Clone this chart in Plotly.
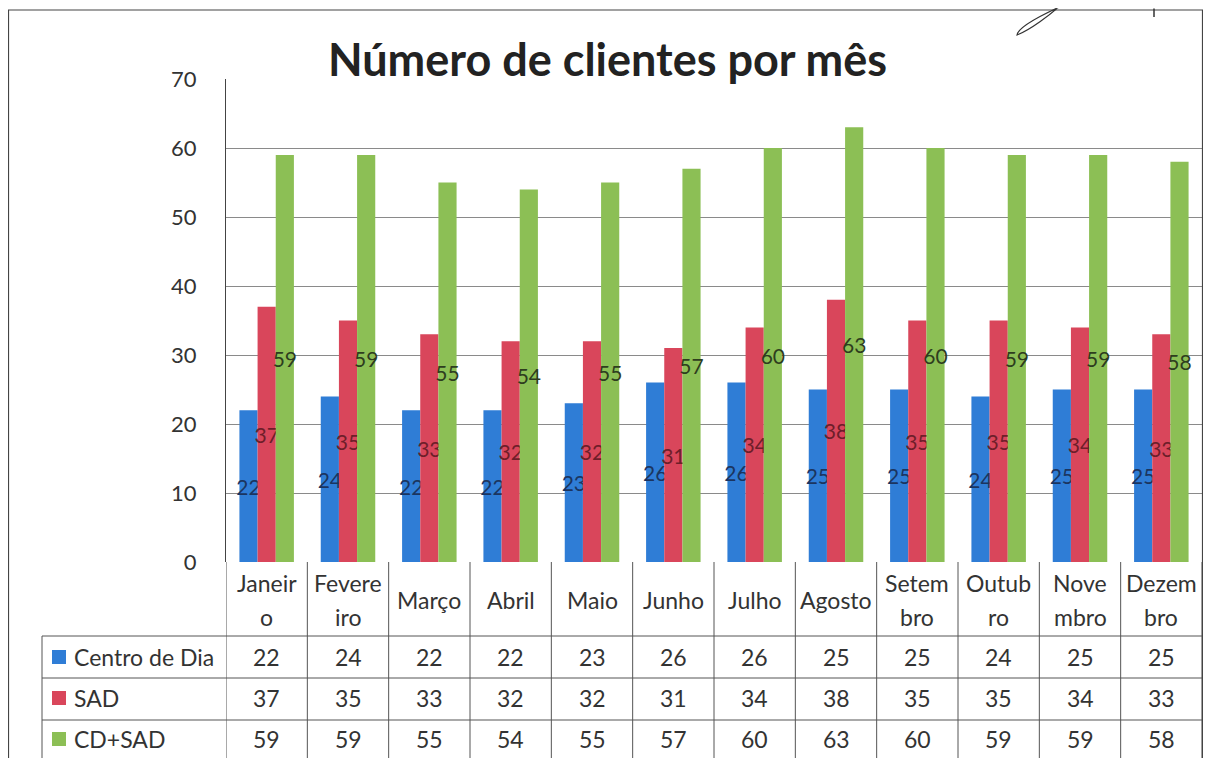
import plotly.graph_objects as go

months_line1 = ["Janeir", "Fevere", "Março", "Abril", "Maio", "Junho", "Julho", "Agosto", "Setem", "Outub", "Nove", "Dezem"]
months_line2 = ["o", "iro", "", "", "", "", "", "", "bro", "ro", "mbro", "bro"]

series_names = ["Centro de Dia", "SAD", "CD+SAD"]
centro_dia = [22, 24, 22, 22, 23, 26, 26, 25, 25, 24, 25, 25]
sad = [37, 35, 33, 32, 32, 31, 34, 38, 35, 35, 34, 33]
cd_sad = [59, 59, 55, 54, 55, 57, 60, 63, 60, 59, 59, 58]
y_ticks = [0, 10, 20, 30, 40, 50, 60, 70]

colors = ["#2F7DD6", "#D9465B", "#8CBF55"]
label_colors = ["#1B3560", "#6E1E2A", "#2E3D1E"]
FONT = "Lato, Open Sans, sans-serif"

OFF = 8  # browser body margin
W, H = 1211 - 2 * OFF, 758 - OFF
PL, PR, PT, PB = 226, 1202, 79, 562  # plot area bounds in page pixels


def pxx(p):
    return (p - PL) / (PR - PL)


def pxy(p):
    return (PB - p) / (PB - PT)


idx = list(range(len(months_line1)))
all_series = [centro_dia, sad, cd_sad]

fig = go.Figure()
for name, vals, col, lc in zip(series_names, all_series, colors, label_colors):
    fig.add_trace(go.Bar(
        x=idx, y=vals, name=name, marker=dict(color=col, line=dict(width=0)),
        text=[str(v) for v in vals], textposition="inside", insidetextanchor="middle",
        constraintext="none", textangle=0,
        textfont=dict(family=FONT, size=21, color=lc),
        showlegend=False,
    ))

shapes = []
annotations = []
line = dict(color="#555555", width=1)

header_top = PB
row_bounds = [636, 678, 720, 770]
legend_left = 42
TFONT = dict(family=FONT, size=23, color="#333333")

for i in range(len(idx) + 1):
    shapes.append(dict(type="line", xref="x", yref="paper", x0=i - 0.5, x1=i - 0.5,
                       y0=pxy(header_top), y1=pxy(row_bounds[-1]), line=line))
for yb in row_bounds[:-1]:
    shapes.append(dict(type="line", xref="paper", yref="paper", x0=pxx(legend_left), x1=1,
                       y0=pxy(yb), y1=pxy(yb), line=line))
shapes.append(dict(type="line", xref="paper", yref="paper", x0=pxx(legend_left), x1=pxx(legend_left),
                   y0=pxy(row_bounds[0]), y1=pxy(row_bounds[-1]), line=line))

# outer border
shapes.append(dict(type="rect", xref="paper", yref="paper", x0=pxx(8.5), x1=pxx(1202.5),
                   y0=pxy(790), y1=pxy(10), line=dict(color="#444444", width=1.2)))

# hand-drawn marks at top right of the scan
sig = "M {:.4f},{:.4f} C {:.4f},{:.4f} {:.4f},{:.4f} {:.4f},{:.4f} C {:.4f},{:.4f} {:.4f},{:.4f} {:.4f},{:.4f}".format(
    pxx(1066), pxy(4), pxx(1048), pxy(12), pxx(1018), pxy(26), pxx(1017), pxy(35),
    pxx(1030), pxy(30), pxx(1050), pxy(15), pxx(1062), pxy(4))
shapes.append(dict(type="path", xref="paper", yref="paper", path=sig,
                   line=dict(color="#333333", width=1.2)))
shapes.append(dict(type="line", xref="paper", yref="paper", x0=pxx(1154), x1=pxx(1154),
                   y0=pxy(8.5), y1=pxy(17), line=dict(color="#333333", width=1.5)))

for i, (l1, l2) in enumerate(zip(months_line1, months_line2)):
    if l2:
        annotations.append(dict(x=i, y=pxy(583), xref="x", yref="paper", text=l1, showarrow=False,
                                xanchor="center", yanchor="middle", font=TFONT))
        annotations.append(dict(x=i, y=pxy(617), xref="x", yref="paper", text=l2, showarrow=False,
                                xanchor="center", yanchor="middle", font=TFONT))
    else:
        annotations.append(dict(x=i, y=pxy(600), xref="x", yref="paper", text=l1, showarrow=False,
                                xanchor="center", yanchor="middle", font=TFONT))

row_centers = [657, 698, 739]
for r, (name, vals, col) in enumerate(zip(series_names, all_series, colors)):
    yc = row_centers[r]
    shapes.append(dict(type="rect", xref="paper", yref="paper", x0=pxx(52), x1=pxx(66),
                       y0=pxy(yc + 7), y1=pxy(yc - 7), fillcolor=col, line=dict(width=0)))
    annotations.append(dict(x=pxx(72), y=pxy(yc), xref="paper", yref="paper", text=name,
                            xanchor="left", yanchor="middle", showarrow=False, font=TFONT))
    for i, v in enumerate(vals):
        annotations.append(dict(x=i, y=pxy(yc), xref="x", yref="paper", text=str(v), showarrow=False,
                                xanchor="center", yanchor="middle", font=TFONT))

fig.update_layout(
    width=W, height=H,
    margin=dict(l=PL - OFF, r=W - (PR - OFF), t=PT - OFF, b=H - (PB - OFF), pad=0),
    paper_bgcolor="white", plot_bgcolor="white",
    barmode="group", bargap=0.33, bargroupgap=0,
    title=dict(text="<b>Número de clientes por mês</b>", x=((330 + 885) / 2 - OFF) / W, xanchor="center",
               y=1 - (60 - OFF) / H, yanchor="middle",
               font=dict(family=FONT, size=45, color="#222222")),
    xaxis=dict(range=[-0.5, len(idx) - 0.5], showticklabels=False, showgrid=False,
               zeroline=False, showline=False, fixedrange=True),
    yaxis=dict(range=[0, 70], tickvals=y_ticks, showgrid=True, gridcolor="#8a8a8a", gridwidth=1,
               zeroline=False, showline=True, linecolor="#444444", linewidth=1,
               ticks="", ticklabelstandoff=24,
               tickfont=dict(family=FONT, size=22, color="#333333")),
    shapes=shapes, annotations=annotations,
)

fig.write_html("out.html")
